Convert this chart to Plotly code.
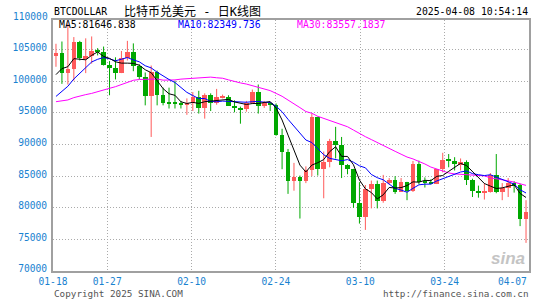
import plotly.graph_objects as go
import pandas as pd
import numpy as np

dates = ["01-18","01-19","01-20","01-21","01-22","01-23","01-24","01-25","01-26","01-27",
         "01-28","01-29","01-30","01-31","02-01","02-02","02-03","02-04","02-05","02-06",
         "02-07","02-08","02-09","02-10","02-11","02-12","02-13","02-14","02-15","02-16",
         "02-17","02-18","02-19","02-20","02-21","02-22","02-23","02-24","02-25","02-26",
         "02-27","02-28","03-01","03-02","03-03","03-04","03-05","03-06","03-07","03-08",
         "03-09","03-10","03-11","03-12","03-13","03-14","03-15","03-16","03-17","03-18",
         "03-19","03-20","03-21","03-22","03-23","03-24","03-25","03-26","03-27","03-28",
         "03-29","03-30","03-31","04-01","04-02","04-03","04-04","04-05","04-06","04-07"]

opens = [104077,104408,101270,102000,106150,103650,103960,104800,104700,102600,
         102080,101300,103700,104700,102400,100650,97700,101400,97900,96600,
         96550,96500,96300,96550,97450,95750,97850,96650,97500,97600,
         96150,95800,95550,96600,98350,96150,96600,96300,91450,88900,
         84250,84850,84300,86050,94300,86150,87300,90600,89900,86700,
         86100,80700,78550,82950,83750,81050,83950,84350,82550,84050,
         82700,86850,84100,84000,83800,86100,87500,87400,86900,87200,
         84400,82650,82400,82550,85150,82500,83150,83850,83550,78300]
highs = [105940,106300,109100,107000,106400,106800,107100,105250,105500,103200,
         103800,104800,106400,106000,102700,101400,102500,101700,99000,99000,
         100100,96900,97300,98300,98500,98100,98100,98800,97900,97800,
         97000,96000,96900,98700,99500,96900,96700,96500,92500,89300,
         87100,85100,86550,94900,94400,88900,90900,92800,91200,86900,
         86150,84050,83600,84300,84300,85200,84700,85000,84700,84100,
         87400,87450,84800,84500,86100,88700,88500,88000,87800,87500,
         84600,83500,83900,85500,88500,83900,84700,84200,83800,81200]
lows = [102300,99600,99500,100100,103300,101300,102800,104100,102500,97800,
        100300,101300,103300,101600,100300,96200,91200,96200,96200,95700,
        95700,95700,94700,95300,94900,94100,95300,96300,97300,96100,
        95100,93300,95200,96400,94900,95800,95300,91400,86100,82200,
        82700,78300,83900,85000,85100,81500,86400,87800,84700,85300,
        80000,77500,76500,79900,79900,80800,83700,82200,82500,81200,
        82500,83700,83200,83700,83750,85600,86400,85900,85900,83600,
        81700,81600,81300,82400,82300,81200,81700,82400,77100,74450]
closes = [104408,101270,102000,106150,103650,103960,104800,104700,102600,102080,
          101300,103700,104700,102400,100650,97700,101400,97900,96600,96550,
          96500,96300,96550,97450,95750,97850,96650,97500,97600,96150,
          95800,95550,96600,98350,96150,96600,96300,91450,88900,84250,
          84850,84300,86050,94300,86150,87300,90600,89900,86700,86100,
          80700,78550,82950,83750,81050,83950,84350,82550,84050,82700,
          86850,84100,84000,83800,86100,87500,87400,86900,87200,84400,
          82650,82400,82550,85150,82500,83150,83850,83550,78300,79300]
# closes of the 29 days before 01-18 (needed to start the moving averages)
prior_closes = [97750,97200,95100,94700,98700,99000,95800,94200,95200,93600,
                92600,93400,94500,96900,98100,98200,98300,102100,96900,95000,
                92500,94700,94600,94500,94500,96500,100500,99800,104100]

tick_dates = ["01-18","01-27","02-10","02-24","03-10","03-24","04-07"]
y_ticks = [70000,75000,80000,85000,90000,95000,100000,105000]

UP = "#ff5a5a"
DOWN = "#00a800"
AXC = "#1a82d0"
MONO = "DejaVu Sans Mono"

n = len(dates)
idx = np.arange(n)
o = np.array(opens); h = np.array(highs); l = np.array(lows); c = np.array(closes)
up = c >= o
cols = [UP if u else DOWN for u in up]

allc = pd.Series(prior_closes + closes, dtype=float)
ma5 = allc.rolling(5).mean().iloc[-n:].values
ma10 = allc.rolling(10).mean().iloc[-n:].values
ma30 = allc.rolling(30).mean().iloc[-n:].values

fig = go.Figure()

for flag, col in ((True, UP), (False, DOWN)):
    wx, wy = [], []
    for i in idx[up == flag]:
        wx += [i, i, None]
        wy += [l[i], h[i], None]
    fig.add_trace(go.Scatter(x=wx, y=wy, mode="lines", line=dict(color=col, width=1),
                             hoverinfo="skip", showlegend=False))

body = np.maximum(np.abs(c - o), 160)
fig.add_trace(go.Bar(x=idx, y=body, base=np.minimum(o, c), width=0.78,
                     marker=dict(color=cols, line=dict(width=0)),
                     hoverinfo="skip", showlegend=False))

for ma, col in ((ma30, "#ff00ff"), (ma10, "#0000ff"), (ma5, "#000000")):
    fig.add_trace(go.Scatter(x=idx, y=ma, mode="lines", line=dict(color=col, width=1),
                             hoverinfo="skip", showlegend=False))

# date gridlines are spread evenly from first to last date
span = len(dates) - 1
day_of = {d: i for i, d in enumerate(dates)}
tickpos = [-0.5 + day_of[d] * n / span for d in tick_dates]
ticktext = tick_dates[:-1] + [""]

L, R, T, B = 50, 529, 20, 271
def px(x):
    return (x - L) / (R - L)
def py(y):
    return (B - y) / (B - T)

fig.update_layout(
    width=545, height=300,
    margin=dict(l=L, r=545 - R, t=T, b=300 - B, pad=0),
    paper_bgcolor="white", plot_bgcolor="white",
    barmode="overlay", bargap=0, showlegend=False, hovermode=False,
    xaxis=dict(range=[-0.5, n - 0.5], tickvals=tickpos, ticktext=ticktext,
               showgrid=True, gridcolor="#aaaaaa", griddash="1px,2px", gridwidth=1,
               showline=True, linecolor="#a0a0a0", linewidth=2, mirror=True,
               ticks="", zeroline=False,
               tickfont=dict(family=MONO, size=9.6, color=AXC)),
    yaxis=dict(range=[70000, 109700], tickvals=y_ticks, ticktext=[str(v) for v in y_ticks],
               showgrid=True, gridcolor="#aaaaaa", griddash="1px,2px", gridwidth=1,
               showline=True, linecolor="#a0a0a0", linewidth=2, mirror=True,
               ticks="", zeroline=False, ticklabelstandoff=2, ticklabelshift=-2,
               tickfont=dict(family=MONO, size=9.6, color=AXC)),
)

ann = []
def add(text, x, y, anchor="left", color="black", size=9.8, family=MONO, yanchor="middle"):
    ann.append(dict(text=text, x=px(x), y=py(y), xref="paper", yref="paper",
                    xanchor=anchor, yanchor=yanchor, showarrow=False,
                    font=dict(family=family, size=size, color=color)))

add("110000", 46.5, 16, anchor="right", color=AXC, size=9.6)
add("04-07", 529, 281, anchor="right", color=AXC, size=9.6)
add("BTCDOLLAR", 49, 11)
add("比特币兑美元 - 日K线图", 119, 11, size=12, family="DejaVu Sans Mono, Noto Sans CJK SC")
add("2025-04-08 10:54:14", 530, 11, anchor="right")
add("MA5:81646.838", 54, 25)
add("MA10:82349.736", 174, 25, color="#0000ff")
add("MA30:83557.1837", 294, 25, color="#ff00ff")
add("Copyright 2025 SINA.COM", 49, 293, color="#555555", size=9.3)
add("http://finance.sina.com.cn", 531, 293, anchor="right", color="#555555", size=9.3)
add("<b><i>sina</i></b>", 527, 258, anchor="right", color="#c4c4c4", size=17, family="Arial")
fig.update_layout(annotations=ann)

fig.write_html("out.html")
